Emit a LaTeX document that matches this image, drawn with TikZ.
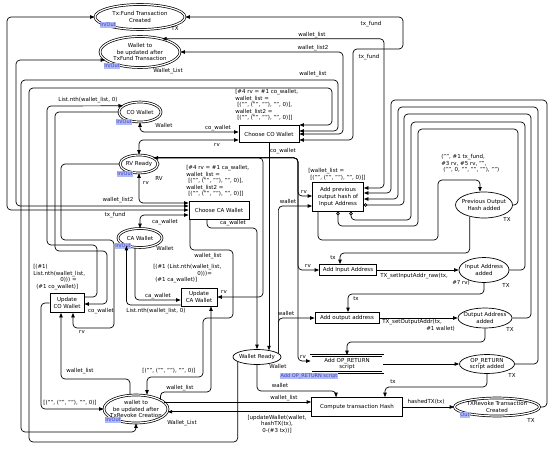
\documentclass[tikz,border=0pt]{standalone}
\usepackage{fontspec}
\setmainfont{DejaVu Sans}
\usetikzlibrary{arrows.meta,shapes.geometric}
\definecolor{tagfill}{RGB}{178,186,244}
\definecolor{tagtext}{RGB}{52,62,190}
\newcommand{\cpnfont}{\fontsize{5.5}{6.6}\selectfont}
\newcommand{\tagfont}{\fontsize{5}{5}\selectfont}

\begin{document}
\begin{tikzpicture}[x=1pt, y=-1pt, >={Triangle[length=4.5pt,width=3.4pt]},
    font=\cpnfont, line width=0.7pt,
    cpnplace/.style={ellipse, draw, inner xsep=-20pt, inner ysep=-10pt, align=center},
    cpnport/.style={cpnplace, double, double distance=1.2pt},
    cpntrans/.style={rectangle, draw, inner sep=0pt, align=center},
    cpnsubst/.style={cpntrans, double, double distance=1.4pt},
    cpnarc/.style={rounded corners=4pt},
    inhib/.style={-{Circle[open,length=3.4pt]}},
    lbl/.style={inner sep=0pt},
    porttag/.style={fill=tagfill, text=tagtext, inner sep=0.7pt, font=\tagfont}]
  \useasboundingbox (0,0) rectangle (550,450);

  % Places
  \node[cpnport, minimum width=90pt, minimum height=25pt] (fundtx) at (140,17) {Tx:Fund Transaction\\Created};
  \node[cpnport, minimum width=80pt, minimum height=31pt] (walletfund) at (140,52) {Wallet to\\be updated after\\TxFund Transaction};
  \node[cpnport, minimum width=42pt, minimum height=20pt] (cowallet) at (140,112) {CO Wallet};
  \node[cpnport, minimum width=38pt, minimum height=18pt] (rvready) at (139,164) {RV Ready};
  \node[cpnport, minimum width=44pt, minimum height=19pt] (cawallet) at (140,238) {CA Wallet};
  \node[cpnport, minimum width=64pt, minimum height=28pt] (walletrevoke) at (136,409) {wallet to\\be updated after\\TxRevoke Creation};
  \node[cpnplace, minimum width=48pt, minimum height=15pt] (walletready) at (257,357) {Wallet Ready};
  \node[cpnplace, minimum width=57pt, minimum height=26pt] (prevhash) at (484,205) {Previous Output\\Hash added};
  \node[cpnplace, minimum width=50pt, minimum height=25pt] (inputaddr) at (484,270) {Input Address\\added};
  \node[cpnplace, minimum width=54pt, minimum height=20pt] (outputaddr) at (485,318) {Output Address\\added};
  \node[cpnplace, minimum width=55pt, minimum height=19pt] (opreturn) at (487,364) {OP\_RETURN\\script added};
  \node[cpnport, minimum width=85pt, minimum height=18pt] (revoketx) at (497,407) {TXRevoke Transaction\\Created};

  % Transitions
  \node[cpntrans, minimum width=60pt, minimum height=17pt] (chooseco) at (269,134) {Choose CO Wallet};
  \node[cpntrans, minimum width=60pt, minimum height=18pt] (chooseca) at (219,210) {Choose CA Wallet};
  \node[cpntrans, minimum width=51pt, minimum height=29pt] (addprev) at (338,197) {Add previous\\output hash of\\Input Address};
  \node[cpntrans, minimum width=57pt, minimum height=11pt] (addinput) at (348,270) {Add Input Address};
  \node[cpntrans, minimum width=64pt, minimum height=11pt] (addoutput) at (347,318) {Add output address};
  \node[cpnsubst, minimum width=72pt, minimum height=17pt] (addop) at (347,364) {Add OP\_RETURN\\script};
  \node[cpntrans, minimum width=91pt, minimum height=19pt] (hashtx) at (357,407) {Compute transaction Hash};
  \node[cpntrans, minimum width=34pt, minimum height=19pt] (updateco) at (67,303) {Update\\CO Wallet};
  \node[cpntrans, minimum width=36pt, minimum height=18pt] (updateca) at (199,297) {Update\\CA Wallet};

  % Port tags and colour sets
  \node[porttag] (tag1) at (108,25) {In/Out};
  \node[porttag] (tag2) at (112,66) {In/Out};
  \node[porttag] (tag3) at (124,122) {In/Out};
  \node[porttag] (tag4) at (125,174) {In/Out};
  \node[porttag] (tag5) at (123,246) {In/Out};
  \node[porttag] (tag6) at (113,420) {In/Out};
  \node[porttag] (tag7) at (465,415) {Out};
  \node[porttag] (tag8) at (309,376) {Add OP\_RETURN script};
  \node[lbl] (cs1) at (175,28) {TX};
  \node[lbl] (cs2) at (168,71) {Wallet\_List};
  \node[lbl] (cs3) at (164,125) {Wallet};
  \node[lbl] (cs4) at (159,178) {RV};
  \node[lbl] (cs5) at (165,248) {Wallet};
  \node[lbl] (cs6) at (182,423) {Wallet\_List};
  \node[lbl] (cs7) at (278,366) {Wallet};
  \node[lbl] (cs8) at (507,219) {TX};
  \node[lbl] (cs9) at (506,285) {TX};
  \node[lbl] (cs10) at (510,329) {TX};
  \node[lbl] (cs11) at (512,375) {TX};
  \node[lbl] (cs12) at (531,420) {TX};

  % Guards
  \node[lbl, anchor=north west, align=left] (gco) at (235,89) {[\#4 rv = \#1 co\_wallet,\\wallet\_list =\\\hspace*{2pt}[("", ("", ""), "", 0)],\\wallet\_list2 =\\\hspace*{2pt}[("", ("", ""), "", 0)]]};
  \node[lbl, anchor=north west, align=left] (gca) at (186,165) {[\#4 rv = \#1 ca\_wallet,\\wallet\_list =\\\hspace*{2pt}[("", ("", ""), "", 0)],\\wallet\_list2 =\\\hspace*{2pt}[("", ("", ""), "", 0)]]};
  \node[lbl, anchor=north west, align=left] (gprev) at (308,168) {[wallet\_list =\\\hspace*{2pt}[("", ("", ""), "", 0)]]};
  \node[lbl, anchor=north west, align=left] (gupca) at (153,264) {[(\#1 (List.nth(wallet\_list,\\\hspace*{44pt}0)))=\\\hspace*{2pt}(\#1 ca\_wallet)]};
  \node[lbl, anchor=north west, align=left] (gupco) at (33,264) {[(\#1(\\List.nth(wallet\_list,\\\hspace*{27pt}0))) =\\\hspace*{3pt}(\#1 co\_wallet)]};

  % Arcs round the left side
  \draw[cpnarc,<->] (fundtx.west) -| (7,210) -- (chooseca.west |- 0,210);
  \draw[cpnarc,<->] (walletfund.193) -| (16,206) -- (chooseca.west |- 0,206);
  \draw[cpnarc,<->] (chooseco.east |- 0,131) -| (338,80) -| (21,432) -| (walletrevoke.south);
  \draw[cpnarc,<-] (chooseco.east |- 0,125) -| (332,88) -| (29,442) -| (walletready.194);
  \draw[cpnarc,<->] (fundtx.east) -| (403,49) -| (353,140) -- (chooseco.east |- 0,140);
  \draw[cpnarc,<->] (walletfund.31) -| (384,188) -- (addprev.east |- 0,188);
  \draw[cpnarc,<->] (walletfund.east) -| (343,134) -- (chooseco.east);
  \draw[cpnarc,<->] (cowallet.south) |- (chooseco.west |- 0,132);
  \draw[cpnarc,<->] (rvready.north) |- (chooseco.west |- 0,140);

  % RV Ready
  \draw[cpnarc,<->] (rvready.23) -| (298,196) -- (addprev.west |- 0,196);
  \draw[cpnarc,->] (rvready.23) -| (298,270) -- (addinput.west);
  \draw[cpnarc,->] (rvready.23) -| (298,361) -- (addop.west |- 0,361);
  \draw[cpnarc,->] (rvready.23) -| (263,297) -- (updateca.east);
  \draw[cpnarc,<->] (rvready.south) |- (chooseca.west |- 0,203);
  \draw[cpnarc,->] (rvready.west) -| (61,240) -| (114,328) -| (updateco.south -| 73,0);

  % Update CO Wallet
  \draw[cpnarc,->] (updateco.east |- 0,297) -| (97,245) -| (47,106) -- (cowallet.160);
  \draw[cpnarc,->] (cowallet.west) -| (55,251) -| (107,304) -- (updateco.east |- 0,304);
  \draw[cpnarc,->] (updateco.west) -| (41,409) -- (walletrevoke.west);
  \draw[cpnarc,->] (walletrevoke.north -| 130,0) |- (61,379) -- (updateco.south -| 61,0);

  % Update CA Wallet
  \draw[cpnarc,->] (cawallet.242) |- (updateca.west |- 0,300);
  \draw[cpnarc,->] (updateca.west |- 0,305) -| (cawallet.210);
  \draw[cpnarc,<->] (cawallet.north) |- (chooseca.west |- 0,215);
  \draw[cpnarc,->] (chooseca.south -| 207,0) |- (257,228) -- (walletready.north);
  \draw[cpnarc,->] (chooseca.south -| 190,0) |- (233,250) |- (203,318) |- (147,377) -- (walletrevoke.north -| 147,0);
  \draw[cpnarc,->] (walletrevoke.21) |- (211,392) -- (updateca.south -| 211,0);
  \draw[cpnarc,->] (walletrevoke.14) -- (walletrevoke.14 -| hashtx.west);
  \draw[cpnarc,->] (hashtx.west |- walletrevoke.355) -- (walletrevoke.355);

  % Wallet Ready
  \draw[cpnarc,->] (chooseco.south) -- (chooseco.south |- walletready.28);
  \draw[cpnarc,->] (walletready.10) |- (addprev.west |- 0,206);
  \draw[cpnarc,->] (walletready.10) |- (addoutput.west);
  \draw[cpnarc,->] (walletready.south) |- (336,391) -- (hashtx.north -| 336,0);

  % Loops on the right
  \draw[cpnarc,->] (addprev.south -| 318,0) |- (438,240) |- (480,180) -- (prevhash.north -| 480,0);
  \draw[cpnarc,->] (revoketx.east) -| (547,100) -| (391,193) -- (addprev.east |- 0,193);
  \draw[cpnarc,->] (opreturn.east) -| (538,107) -| (398,199) -- (addprev.east |- 0,199);
  \draw[cpnarc,inhib] (outputaddr.east) -| (531,114) -| (404,205) -- (addprev.east |- 0,205);
  \draw[cpnarc,inhib] (inputaddr.east) -| (525,122) -| (411,220) -| (addprev.south -| 351,0);
  \draw[cpnarc,inhib] (prevhash.east) -| (518,129) -| (418,226) -| (addprev.south -| 338,0);

  % Building the revoke transaction
  \draw[cpnarc,->] (prevhash.219) |- (340,253) -- (addinput.north -| 340,0);
  \draw[cpnarc,->] (addinput.east) -- (inputaddr.west);
  \draw[cpnarc,->] (inputaddr.south) |- (348,294) -- (addoutput.north -| 348,0);
  \draw[cpnarc,->] (addoutput.east) -- (outputaddr.west);
  \draw[cpnarc,->] (outputaddr.south) |- (347,342) -- (addop.north);
  \draw[cpnarc,->] (addop.east) -- (opreturn.west);
  \draw[cpnarc,->] (opreturn.south) |- (385,387) -- (hashtx.north -| 385,0);
  \draw[cpnarc,->] (hashtx.east) -- (revoketx.west);

  % Arc inscriptions
  \node[lbl] (a1) at (371,24) {tx\_fund};
  \node[lbl] (a2) at (312,35) {wallet\_list};
  \node[lbl] (a3) at (313,48) {wallet\_list2};
  \node[lbl] (a4) at (369,57) {tx\_fund};
  \node[lbl] (a5) at (313,74) {wallet\_list};
  \node[lbl] (a6) at (88,100) {List.nth(wallet\_list, 0)};
  \node[lbl] (a7) at (218,128) {co\_wallet};
  \node[lbl] (a8) at (217,145) {rv};
  \node[lbl] (a9) at (283,151) {co\_wallet};
  \node[lbl] (a10) at (146,183) {rv};
  \node[lbl] (a11) at (118,200) {wallet\_list2};
  \node[lbl] (a12) at (115,215) {tx\_fund};
  \node[lbl] (a13) at (165,222) {ca\_wallet};
  \node[lbl] (a14) at (233,223) {ca\_wallet};
  \node[lbl] (a15) at (208,256) {wallet\_list};
  \node[lbl] (a16) at (158,296) {ca\_wallet};
  \node[lbl] (a17) at (156,311) {List.nth(wallet\_list, 0)};
  \node[lbl] (a18) at (224,292) {rv};
  \node[lbl] (a19) at (101,311) {co\_wallet};
  \node[lbl] (a20) at (82,332) {rv};
  \node[lbl] (a21) at (80,371) {wallet\_list};
  \node[lbl] (a22) at (169,371) {[("", ("", ""), "", 0)]};
  \node[lbl] (a23) at (180,388) {wallet\_list};
  \node[lbl] (a24) at (70,403) {[("", ("", ""), "", 0)]};
  \node[lbl] (a25) at (284,398) {wallet\_list};
  \node[lbl, align=center] (a26) at (277,424) {[updateWallet(wallet,\\hashTX(tx),\\0-(\#3 tx))]};
  \node[lbl] (a27) at (304,192) {rv};
  \node[lbl] (a28) at (288,201) {wallet};
  \node[lbl, anchor=north west, align=left] (a29) at (441,154) {("", \#1 tx\_fund,\\\#3 rv, \#5 rv, "",\\\hspace*{2pt}("", 0, "", "", ""), "")};
  \node[lbl] (a30) at (333,258) {tx};
  \node[lbl] (a31) at (308,266) {rv};
  \node[lbl, anchor=north west, align=left] (a32) at (380,273) {TX\_setInputAddr\_raw(tx,\\\hspace*{72pt}\#7 rv)};
  \node[lbl] (a33) at (356,299) {tx};
  \node[lbl] (a34) at (286,313) {wallet};
  \node[lbl, anchor=north west, align=left] (a35) at (382,319) {TX\_setOutputAddr(tx,\\\hspace*{44pt}\#1 wallet)};
  \node[lbl] (a36) at (303,357) {rv};
  \node[lbl] (a37) at (280,385) {wallet};
  \node[lbl] (a38) at (393,382) {tx};
  \node[lbl] (a39) at (426,402) {hashedTX(tx)};
\end{tikzpicture}
\end{document}
